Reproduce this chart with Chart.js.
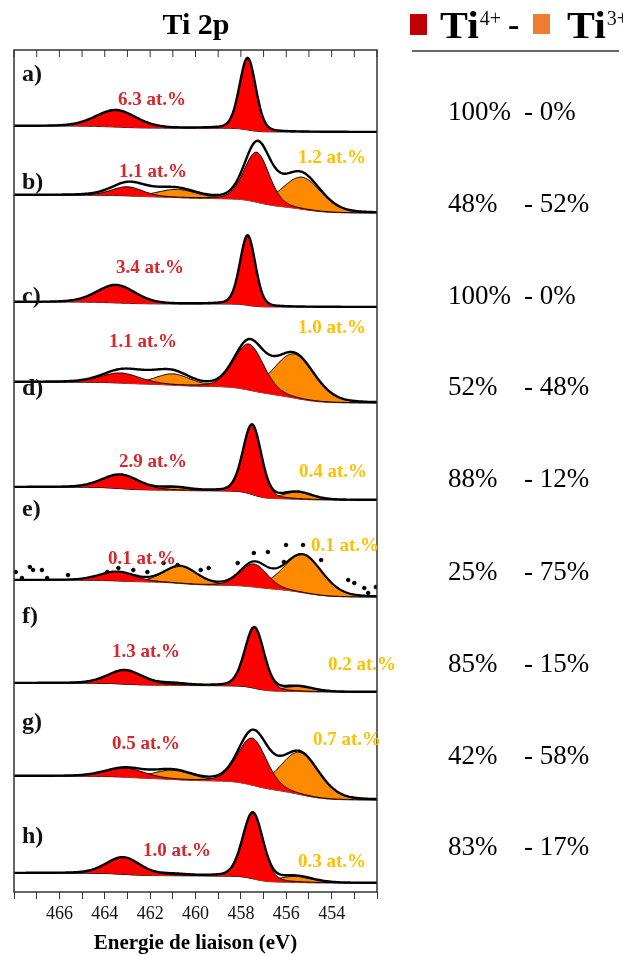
<!DOCTYPE html>
<html>
<head>
<meta charset="utf-8">
<script src="https://cdn.jsdelivr.net/npm/chart.js@4.4.0/dist/chart.umd.min.js"></script>
<style>
  html, body { margin: 0; padding: 0; background: #fff; }
</style>
</head>
<body>
<canvas id="canvas" width="623" height="956"></canvas>
<script>
// ---- data ----
const sampleNames = ['a)', 'b)', 'c)', 'd)', 'e)', 'f)', 'g)', 'h)'];
const ti4Share = [100, 48, 100, 52, 88, 25, 85, 42, 83];
const ti3Share = [0, 52, 0, 48, 12, 75, 15, 58, 17];
const ti4AtPct = ['6.3', '1.1', '3.4', '1.1', '2.9', '0.1', '1.3', '0.5', '1.0'];
const ti3AtPct = [null, '1.2', null, '1.0', '0.4', '0.1', '0.2', '0.7', '0.3'];

// fitted components, one list per spectrum: [centre (eV), height, FWHM (eV)]
const ti4Peaks = [
    [[457.7, 72, 0.85], [463.5, 17, 2.1]],
    [[457.3, 50, 1.3], [463.0, 9, 1.6]],
    [[457.7, 70, 0.8], [463.5, 18, 2.0]],
    [[457.65, 46, 1.55], [463.3, 10, 2.0]],
    [[457.5, 70, 0.95], [463.3, 14, 1.9]],
    [[457.43, 23, 1.4], [463.45, 9, 1.8]],
    [[457.4, 61, 1.0], [463.1, 14, 1.8]],
    [[457.5, 47, 1.5], [463.1, 9, 2.0]],
    [[457.47, 66, 1.05], [463.18, 17, 1.75]]
];
const ti3Peaks = [
    [],
    [[455.3, 32, 2.0], [460.8, 8, 2.0]],
    [],
    [[455.65, 44, 2.1], [461.0, 11, 1.8]],
    [[455.5, 7, 1.5], [460.9, 3, 1.5]],
    [[455.26, 38, 2.0], [460.66, 17, 1.7]],
    [[455.5, 5, 1.6], [461.0, 2, 1.5]],
    [[455.4, 42, 2.0], [461.0, 9, 2.0]],
    [[455.6, 6, 1.8], [461.0, 1.5, 1.5]]
];
// part of the measured signal the fit leaves out
const residualPeaks = [
    [],
    [[457.0, 9, 1.6], [455.6, 4, 1.5], [462.5, 5, 2.5]],
    [],
    [[462.2, 6, 2.5]],
    [],
    [],
    [],
    [[457.2, 6, 1.4]],
    []
];
// background rise from low to high binding energy
const bgStep = [6, 18, 5, 21, 13, 17, 9, 24, 10];

// scattered points of the noisy spectrum (6th)
const noiseE = [467.92, 467.65, 467.3, 467.16, 466.77, 466.54, 465.62, 463.89, 463.4, 462.74, 462.12, 461.41,
    460.79, 459.77, 459.42, 458.14, 457.43, 456.81, 456.1, 456.01, 455.26, 454.46, 453.27, 453.0, 452.56, 452.39, 452.05];
const noiseI = [25, 19, 30, 27, 27, 19, 22, 25, 29, 27, 25, 34,
    32, 27, 29, 34, 44, 45, 35, 52, 52, 37, 17, 14, 9, 4, 10];

// ---- layout ----
const spectrumBase = [760, 679, 585, 489, 392, 295, 200, 92, 9];
const letterY = [75, 183, 297, 389, 510, 617, 723, 837];
const ti4LabelPos = [[152, 100], [153, 172], [150, 268], [143, 342], [153, 462], [142, 559], [146, 652], [146, 744], [177, 851]];
const ti3LabelPos = [null, [332, 158], null, [332, 328], [333, 472], [345, 546], [362, 665], [347, 740], [332, 862]];
const rowY = [113, 205, 297, 388, 480, 573, 665, 757, 848];

const RED = '#FF0000';
const ORANGE = '#FF8A00';
const SERIF = '"Liberation Serif", "Times New Roman", serif';

const grid = [];
for (let i = 0; i <= 320; i++) grid.push(452 + i / 20);

const profile = (e, p) => {
    const d = (e - p[0]) / p[2];
    return p[1] * (0.8 * Math.exp(-4 * Math.LN2 * d * d) + 0.2 / (1 + 4 * d * d));
};
const sumPeaks = (e, list) => list.reduce((s, p) => s + profile(e, p), 0);

const datasets = [];
for (let k = 0; k < spectrumBase.length; k++) {
    const base = spectrumBase[k];
    const t4 = grid.map(e => sumPeaks(e, ti4Peaks[k]));
    const t3 = grid.map(e => sumPeaks(e, ti3Peaks[k]));
    const extra = grid.map(e => sumPeaks(e, residualPeaks[k]));
    // shirley-like background: steps up under each fitted peak
    const cum = [];
    let acc = 0;
    grid.forEach((e, i) => { acc += t4[i] + t3[i]; cum.push(acc); });
    const bg = cum.map(c => bgStep[k] * c / acc);

    const bgIndex = datasets.length;
    datasets.push({
        data: grid.map((e, i) => ({x: e, y: base + bg[i]})),
        borderColor: '#000', borderWidth: 1, pointRadius: 0, fill: false, order: 3
    });
    if (ti3Peaks[k].length) {
        datasets.push({
            data: grid.map((e, i) => ({x: e, y: base + bg[i] + t3[i]})),
            borderColor: '#000', borderWidth: 1, pointRadius: 0,
            backgroundColor: ORANGE, fill: bgIndex, order: 2
        });
    }
    datasets.push({
        data: grid.map((e, i) => ({x: e, y: base + bg[i] + t4[i]})),
        borderColor: '#000', borderWidth: 1, pointRadius: 0,
        backgroundColor: RED, fill: bgIndex, order: 1
    });
    datasets.push({
        data: grid.map((e, i) => ({x: e, y: base + bg[i] + t4[i] + t3[i] + extra[i]})),
        borderColor: '#000', borderWidth: k === 5 ? 2.2 : 2.4, pointRadius: 0, fill: false, order: 0
    });
    if (k === 5) {
        datasets.push({
            type: 'scatter',
            data: noiseE.map((e, i) => ({x: e, y: base + noiseI[i]})),
            backgroundColor: '#000', borderColor: '#000', pointRadius: 1.8, showLine: false, order: 0
        });
    }
}

const decor = {
    id: 'decor',
    afterDraw(chart) {
        const {ctx, chartArea: a, scales: {x}} = chart;
        ctx.save();
        ctx.strokeStyle = '#333';
        ctx.lineWidth = 1.5;
        ctx.strokeRect(a.left, a.top, a.right - a.left, a.bottom - a.top);
        ctx.lineWidth = 1;
        x.ticks.forEach(t => {
            const px = x.getPixelForValue(t.value);
            ctx.beginPath();
            ctx.moveTo(px, a.top);
            ctx.lineTo(px, a.top + 7);
            ctx.stroke();
        });

        ctx.textBaseline = 'middle';
        // panel letters
        ctx.fillStyle = '#111';
        ctx.textAlign = 'left';
        ctx.font = 'bold 24px ' + SERIF;
        sampleNames.forEach((n, i) => ctx.fillText(n, 22, letterY[i]));

        // at.% labels
        ctx.textAlign = 'center';
        ctx.font = 'bold 19px ' + SERIF;
        ti4AtPct.forEach((v, i) => {
            ctx.fillStyle = '#D8262B';
            ctx.fillText(v + ' at.%', ti4LabelPos[i][0], ti4LabelPos[i][1]);
            if (ti3AtPct[i]) {
                ctx.fillStyle = '#FFC000';
                ctx.fillText(ti3AtPct[i] + ' at.%', ti3LabelPos[i][0], ti3LabelPos[i][1]);
            }
        });

        // title
        ctx.fillStyle = '#000';
        ctx.font = 'bold 30px ' + SERIF;
        ctx.fillText('Ti 2p', 196, 26);

        // legend
        ctx.textAlign = 'left';
        ctx.textBaseline = 'alphabetic';
        ctx.fillStyle = '#C00000';
        ctx.fillRect(410, 14, 17, 21);
        ctx.fillStyle = '#ED7D31';
        ctx.fillRect(533, 14, 17, 20);
        ctx.fillStyle = '#000';
        ctx.font = 'bold 38px ' + SERIF;
        const sx = 1.1;
        const w = ctx.measureText('Ti').width * sx;
        [440, 567].forEach(px => {
            ctx.save();
            ctx.translate(px, 38);
            ctx.scale(sx, 1);
            ctx.fillText('Ti', 0, 0);
            ctx.restore();
        });
        ctx.font = 'bold 34px ' + SERIF;
        ctx.fillText('-', 508, 36);
        ctx.font = '20px ' + SERIF;
        ctx.fillStyle = '#1a0a1a';
        ctx.fillText('4+', 440 + w + 1, 25);
        ctx.fillText('3+', 567 + w + 1, 25);
        ctx.strokeStyle = '#333';
        ctx.lineWidth = 1.5;
        ctx.beginPath();
        ctx.moveTo(412, 51);
        ctx.lineTo(619, 51);
        ctx.stroke();

        // share columns
        ctx.fillStyle = '#000';
        ctx.textBaseline = 'middle';
        ctx.font = '27px ' + SERIF;
        ti4Share.forEach((v, i) => {
            ctx.fillText(v + '%', 448, rowY[i]);
            ctx.fillText('- ' + ti3Share[i] + '%', 524, rowY[i]);
        });
        ctx.restore();
    }
};

const ctx = document.getElementById('canvas').getContext('2d');
window.myChart = new Chart(ctx, {
    type: 'line',
    data: {datasets: datasets},
    options: {
        responsive: false,
        animation: false,
        events: [],
        parsing: false,
        layout: {padding: {left: 14, right: 246, top: 50, bottom: 0}},
        plugins: {legend: {display: false}, tooltip: {enabled: false}, title: {display: false}},
        scales: {
            x: {
                type: 'linear',
                reverse: true,
                min: 452,
                max: 468,
                position: 'bottom',
                ticks: {
                    stepSize: 1,
                    autoSkip: false,
                    maxRotation: 0,
                    padding: 4,
                    color: '#111',
                    font: {family: SERIF, size: 18},
                    callback: v => (v % 2 === 0 && v > 452 && v < 468) ? String(v) : ''
                },
                grid: {drawOnChartArea: false, tickLength: 7, color: '#333', lineWidth: 1},
                border: {display: false},
                title: {
                    display: true,
                    text: 'Energie de liaison (eV)',
                    color: '#000',
                    font: {family: SERIF, size: 21, weight: 'bold'},
                    padding: {top: 0, bottom: 0}
                },
                afterFit: s => { s.height = 64; }
            },
            y: {display: false, min: 0, max: 842}
        }
    },
    plugins: [decor]
});
</script>
</body>
</html>
